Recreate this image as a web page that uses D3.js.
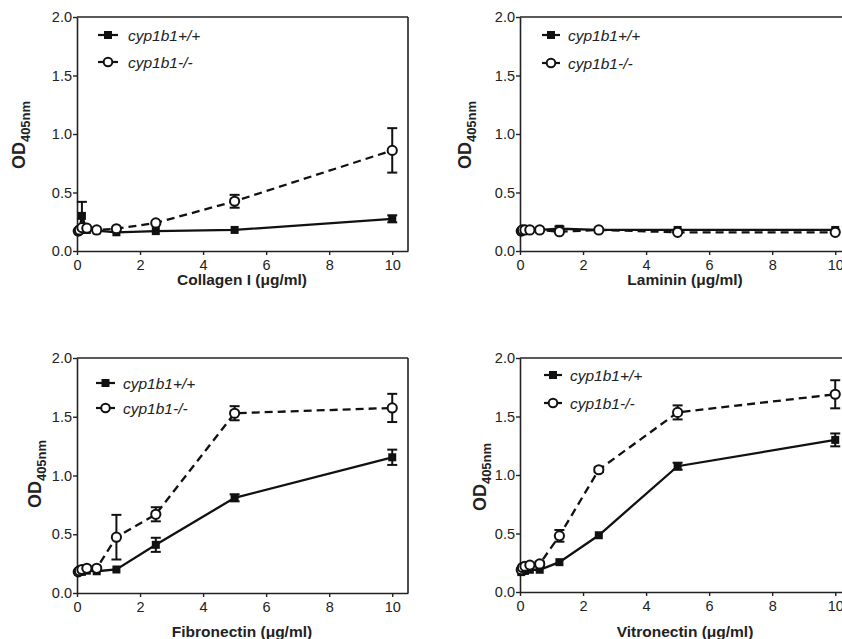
<!DOCTYPE html>
<html><head><meta charset="utf-8">
<script src="https://cdn.jsdelivr.net/npm/d3@7"></script>
<style>
html,body{margin:0;padding:0;background:#fff;}
svg{display:block;font-family:"Liberation Sans",Arial,sans-serif;}
</style></head>
<body><svg id="c" width="842" height="639"></svg>
<script>
const doses = [0.039, 0.078, 0.156, 0.3125, 0.625, 1.25, 2.5, 5, 10];
const xTicks = [0, 2, 4, 6, 8, 10];
const yTicks = [0, 0.5, 1, 1.5, 2];
const seriesNames = ["cyp1b1+/+", "cyp1b1-/-"];
const substrates = ["Collagen I", "Laminin", "Fibronectin", "Vitronectin"];

const collagenWT     = [0.17, 0.18, 0.30, 0.18, 0.175, 0.16, 0.17, 0.18, 0.275];
const collagenWTErr  = [0, 0, 0.12, 0, 0, 0, 0, 0, 0.03];
const collagenKO     = [0.17, 0.18, 0.20, 0.195, 0.18, 0.19, 0.24, 0.425, 0.86];
const collagenKOErr  = [0, 0, 0, 0, 0, 0, 0, 0.055, 0.19];

const lamininWT      = [0.17, 0.18, 0.18, 0.18, 0.18, 0.19, 0.18, 0.18, 0.18];
const lamininWTErr   = [0, 0, 0, 0, 0, 0.02, 0, 0, 0];
const lamininKO      = [0.17, 0.18, 0.18, 0.18, 0.18, 0.165, 0.18, 0.16, 0.16];
const lamininKOErr   = [0, 0, 0, 0, 0, 0, 0, 0, 0];

const fibronectinWT    = [0.18, 0.18, 0.18, 0.19, 0.185, 0.20, 0.41, 0.81, 1.155];
const fibronectinWTErr = [0, 0, 0, 0, 0, 0, 0.06, 0.03, 0.065];
const fibronectinKO    = [0.18, 0.19, 0.20, 0.21, 0.21, 0.475, 0.67, 1.53, 1.575];
const fibronectinKOErr = [0, 0, 0, 0, 0, 0.19, 0.06, 0.06, 0.12];

const vitronectinWT    = [0.17, 0.18, 0.18, 0.19, 0.19, 0.255, 0.485, 1.075, 1.30];
const vitronectinWTErr = [0, 0, 0, 0, 0, 0, 0, 0.03, 0.055];
const vitronectinKO    = [0.19, 0.21, 0.22, 0.23, 0.24, 0.48, 1.045, 1.535, 1.69];
const vitronectinKOErr = [0, 0, 0, 0, 0.02, 0.05, 0.02, 0.06, 0.12];

const panelData = [
  [collagenWT, collagenWTErr, collagenKO, collagenKOErr],
  [lamininWT, lamininWTErr, lamininKO, lamininKOErr],
  [fibronectinWT, fibronectinWTErr, fibronectinKO, fibronectinKOErr],
  [vitronectinWT, vitronectinWTErr, vitronectinKO, vitronectinKOErr]
];

// layout (pixels)
const panels = [
  {x0: 77,  x1: 408, yTop: 17,  yBot: 251, ylabX: 19,  ylabY: 135, xlabY: 285, leg: {y1: 35,  y2: 62,  m0: 98,  m1: 118, tx: 128}},
  {x0: 520, x1: 851, yTop: 17,  yBot: 251, ylabX: 465, ylabY: 135, xlabY: 285, leg: {y1: 35,  y2: 63,  m0: 542, m1: 560, tx: 568}},
  {x0: 77,  x1: 408, yTop: 358, yBot: 593, ylabX: 35,  ylabY: 474, xlabY: 637, leg: {y1: 383, y2: 408, m0: 96,  m1: 115, tx: 123}},
  {x0: 520, x1: 851, yTop: 358, yBot: 592, ylabX: 480, ylabY: 477, xlabY: 637, leg: {y1: 375, y2: 403, m0: 544, m1: 562, tx: 570}}
];

const svg = d3.select("#c");

panels.forEach((p, i) => {
  const g = svg.append("g");
  const x = d3.scaleLinear().domain([0, 10.5]).range([p.x0, p.x1]);
  const y = d3.scaleLinear().domain([0, 2]).range([p.yBot, p.yTop]);

  // frame top & right
  g.append("line").attr("x1", p.x0).attr("x2", p.x1).attr("y1", p.yTop).attr("y2", p.yTop)
    .attr("stroke", "#222").attr("stroke-width", 1.6);
  g.append("line").attr("x1", p.x1).attr("x2", p.x1).attr("y1", p.yTop).attr("y2", p.yBot)
    .attr("stroke", "#222").attr("stroke-width", 1.6);

  const xa = g.append("g").attr("transform", `translate(0,${p.yBot})`)
    .call(d3.axisBottom(x).tickValues(xTicks).tickSize(4).tickSizeOuter(0).tickFormat(d3.format("d")));
  const ya = g.append("g").attr("transform", `translate(${p.x0},0)`)
    .call(d3.axisLeft(y).tickValues(yTicks).tickSize(4).tickSizeOuter(0).tickFormat(d3.format(".1f")));
  [xa, ya].forEach(a => {
    a.select(".domain").attr("stroke", "#222").attr("stroke-width", 1.6);
    a.selectAll(".tick line").attr("stroke", "#222").attr("stroke-width", 1.4);
    a.selectAll(".tick text").attr("font-size", "14.5px").attr("fill", "#222")
      .attr("font-family", "Liberation Sans, Arial, sans-serif");
  });
  xa.selectAll(".tick text").attr("dy", "0.82em");
  ya.selectAll(".tick text").attr("x", -5);

  // axis labels
  g.append("text").attr("x", p.x0 + 165).attr("y", p.xlabY)
    .attr("text-anchor", "middle").attr("font-weight", "bold").attr("font-size", "15.5px").attr("fill", "#222")
    .text(substrates[i] + " (μg/ml)");

  const yl = g.append("text").attr("transform", `translate(${p.ylabX + 6},${p.ylabY}) rotate(-90)`)
    .attr("text-anchor", "middle").attr("font-weight", "bold").attr("fill", "#222");
  yl.append("tspan").attr("font-size", "18px").text("OD");
  yl.append("tspan").attr("font-size", "13px").attr("dy", 5).text("405nm");

  const [wt, wtE, ko, koE] = panelData[i];
  const rows = [
    {vals: wt, errs: wtE, dash: null, type: "sq"},
    {vals: ko, errs: koE, dash: "8,5", type: "ci"}
  ];
  const line = d3.line().x(d => x(d[0])).y(d => y(d[1]));

  rows.forEach(r => {
    const pts = doses.map((d, k) => [d, r.vals[k], r.errs[k]]);
    g.append("path").datum(pts).attr("d", line).attr("fill", "none")
      .attr("stroke", "#111").attr("stroke-width", 2.3).attr("stroke-dasharray", r.dash);
    pts.filter(d => d[2] > 0).forEach(d => {
      const cx = x(d[0]), yt = y(d[1] + d[2]), yb = y(d[1] - d[2]);
      g.append("line").attr("x1", cx).attr("x2", cx).attr("y1", yt).attr("y2", yb).attr("stroke", "#111").attr("stroke-width", 2);
      [yt, yb].forEach(yy => g.append("line").attr("x1", cx - 5).attr("x2", cx + 5).attr("y1", yy).attr("y2", yy)
        .attr("stroke", "#111").attr("stroke-width", 2));
    });
  });
  rows.forEach(r => {
    const pts = doses.map((d, k) => [d, r.vals[k]]);
    if (r.type === "sq") {
      g.selectAll(null).data(pts).enter().append("rect")
        .attr("x", d => x(d[0]) - 4).attr("y", d => y(d[1]) - 4).attr("width", 8).attr("height", 8).attr("fill", "#111");
    } else {
      g.selectAll(null).data(pts).enter().append("circle")
        .attr("cx", d => x(d[0])).attr("cy", d => y(d[1])).attr("r", 4.6)
        .attr("fill", "#fff").attr("stroke", "#111").attr("stroke-width", 2);
    }
  });

  // legend
  const L = p.leg;
  [[L.y1, "sq", seriesNames[0]], [L.y2, "ci", seriesNames[1]]].forEach(([yy, t, name]) => {
    g.append("line").attr("x1", L.m0).attr("x2", L.m1).attr("y1", yy).attr("y2", yy).attr("stroke", "#111").attr("stroke-width", 2.2);
    const mx = (L.m0 + L.m1) / 2;
    if (t === "sq") g.append("rect").attr("x", mx - 4).attr("y", yy - 4).attr("width", 8).attr("height", 8).attr("fill", "#111");
    else g.append("circle").attr("cx", mx).attr("cy", yy).attr("r", 4.3).attr("fill", "#fff").attr("stroke", "#111").attr("stroke-width", 2);
    g.append("text").attr("x", L.tx).attr("y", yy + 5.5).attr("font-style", "italic").attr("font-size", "15.5px")
      .attr("fill", "#222").text(name);
  });
});
</script></body></html>
